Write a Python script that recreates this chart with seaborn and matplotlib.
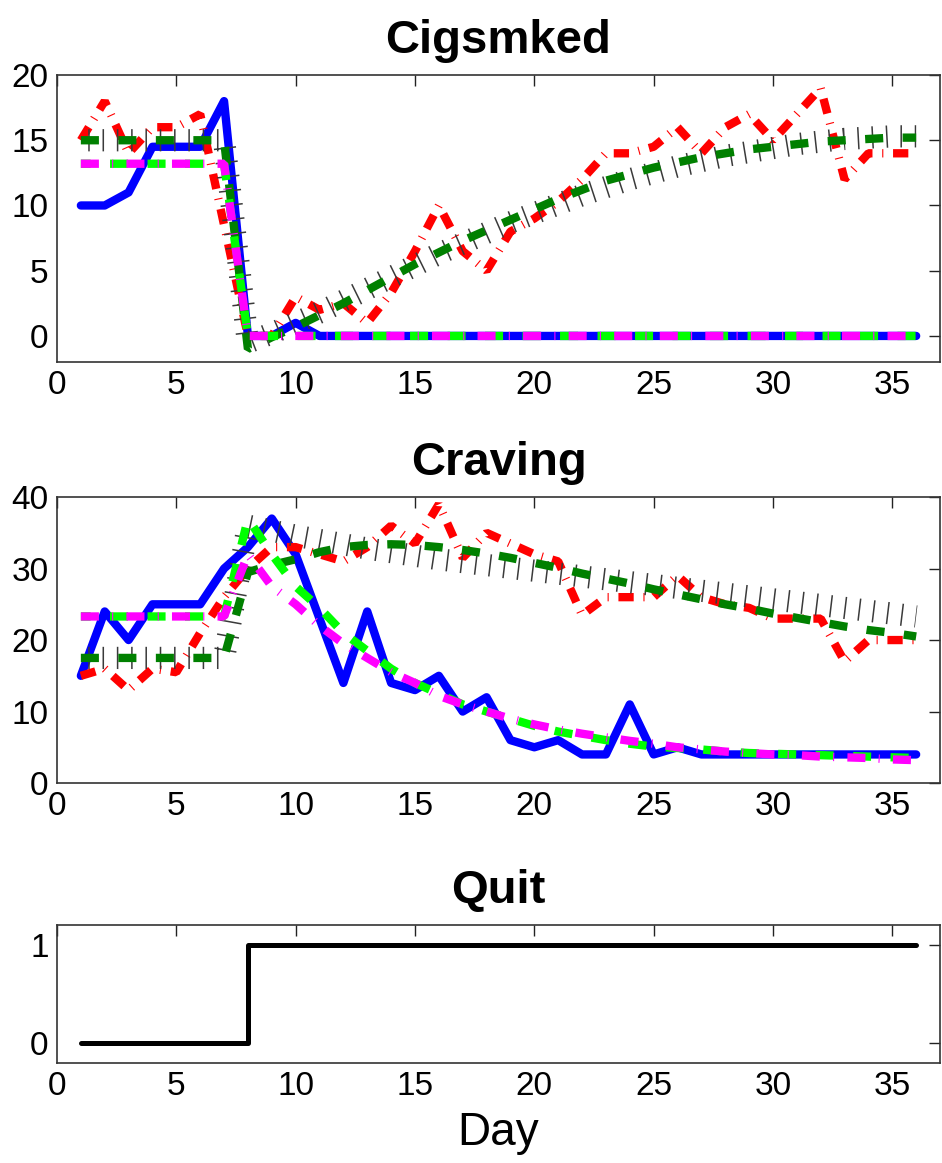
import matplotlib
matplotlib.use("Agg")
import matplotlib.pyplot as plt
import seaborn as sns

# ---------------- data ----------------
days = [1, 2, 3, 4, 5, 6, 7, 8, 9, 10, 11, 12, 13, 14, 15, 16, 17, 18,
        19, 20, 21, 22, 23, 24, 25, 26, 27, 28, 29, 30, 31, 32, 33, 34, 35, 36]

cig_blue = [10, 10, 11, 14.5, 14.5, 14.5, 18, 0, 0, 1, 0, 0, 0, 0, 0, 0, 0, 0,
            0, 0, 0, 0, 0, 0, 0, 0, 0, 0, 0, 0, 0, 0, 0, 0, 0, 0]
cig_red = [15, 18, 14, 16, 16, 17, 8.5, 0, 0, 3, 2, 2.5, 1, 3.3, 6.5, 10, 6.5, 5,
           8, 9, 10.3, 12, 14, 14, 14.5, 16, 14, 16, 17, 15, 17, 19, 12, 14, 14, 14]
cig_gray = [15, 15, 15, 15, 15, 15, 15, -0.5, 0.2, 1.0, 1.8, 2.7, 3.6, 4.5, 5.4, 6.3, 7.1, 7.9,
            8.7, 9.4, 10.1, 10.8, 11.4, 12.0, 12.5, 13.0, 13.4, 13.8, 14.1, 14.4, 14.7, 14.9, 15.1, 15.2, 15.3, 15.3]
cig_dgreen = [15, 15, 15, 15, 15, 15, 15, -1, -0.1, 0.7, 1.6, 2.5, 3.5, 4.5, 5.5, 6.4, 7.3, 8.1,
              8.9, 9.7, 10.5, 11.2, 11.9, 12.4, 12.9, 13.3, 13.7, 14.0, 14.3, 14.5, 14.7, 14.9, 15.0, 15.1, 15.2, 15.2]
cig_lime = [13.2, 13.2, 13.2, 13.2, 13.2, 13.2, 13.2, 0, 0, 0, 0, 0, 0, 0, 0, 0, 0, 0,
            0, 0, 0, 0, 0, 0, 0, 0, 0, 0, 0, 0, 0, 0, 0, 0, 0, 0]
cig_magenta = [13.2, 13.2, 13.2, 13.2, 13.2, 13.2, 13.2, 0, 0, 0, 0, 0, 0, 0, 0, 0, 0, 0,
               0, 0, 0, 0, 0, 0, 0, 0, 0, 0, 0, 0, 0, 0, 0, 0, 0, 0]

crav_blue = [15, 24, 20, 25, 25, 25, 30, 33, 37, 32, 23, 14, 24, 14, 13, 15, 10, 12,
             6, 5, 6, 4, 4, 11, 4, 5, 4, 4, 4, 4, 4, 4, 4, 4, 4, 4]
crav_red = [15, 16, 13, 16, 15.5, 21, 26, 30, 33, 33, 32, 31, 33, 36, 33.5, 39, 31.5, 35,
            33.5, 32, 31, 23.5, 26, 26, 26, 29, 26, 25, 24.5, 23, 23, 23, 17, 20, 20, 20]
crav_gray = [17.5, 17.5, 17.5, 17.5, 17.5, 17.5, 17.5, 36, 35.3, 34.6, 34, 33.4, 32.8, 32.3, 31.8, 31.3, 30.9, 30.5,
             30.1, 29.7, 29.3, 28.9, 28.5, 28.1, 27.7, 27.3, 26.9, 26.5, 26.1, 25.7, 25.3, 24.9, 24.5, 24.1, 23.7, 23.3]
crav_dgreen = [17.5, 17.5, 17.5, 17.5, 17.5, 17.5, 17.5, 29.5, 30.5, 31.3, 32.3, 33, 33.3, 33.4, 33.3, 33, 32.6, 32.1,
               31.5, 30.8, 30.1, 29.3, 28.6, 27.9, 27.1, 26.4, 25.7, 25, 24.4, 23.7, 23.1, 22.5, 21.9, 21.4, 21, 20.5]
crav_lime = [23.3, 23.3, 23.3, 23.3, 23.3, 23.3, 23.3, 37, 32, 27.5, 24.5, 21, 18.5, 16, 14, 12.5, 11, 10,
             9, 8, 7.2, 6.6, 6, 5.5, 5.1, 4.9, 4.7, 4.4, 4.2, 4.1, 4.0, 3.9, 3.8, 3.7, 3.6, 3.5]
crav_magenta = [23.3, 23.3, 23.3, 23.3, 23.3, 23.3, 23.3, 32, 27.5, 25, 22, 19.5, 17.5, 15.5, 14, 12.2, 11, 10,
                9, 8.2, 7.5, 6.9, 6.4, 5.9, 5.5, 5.0, 4.7, 4.4, 4.2, 4.0, 3.9, 3.7, 3.6, 3.5, 3.3, 3.2]

quit_vals = [0, 0, 0, 0, 0, 0, 0, 1, 1, 1, 1, 1, 1, 1, 1, 1, 1, 1,
             1, 1, 1, 1, 1, 1, 1, 1, 1, 1, 1, 1, 1, 1, 1, 1, 1, 1]

x_ticks = [0, 5, 10, 15, 20, 25, 30, 35]
cig_ticks = [0, 5, 10, 15, 20]
crav_ticks = [0, 10, 20, 30, 40]
quit_ticks = [0, 1]
titles = ["Cigsmked", "Craving", "Quit"]

# ---------------- style ----------------
sns.set_style("white")
plt.rcParams["font.family"] = ["Liberation Sans", "DejaVu Sans"]
plt.rcParams["lines.scale_dashes"] = False
plt.rcParams["text.color"] = "black"
plt.rcParams["axes.labelcolor"] = "black"
plt.rcParams["xtick.color"] = "black"
plt.rcParams["ytick.color"] = "black"

fig = plt.figure(figsize=(9.42, 11.63), dpi=100)
ax1 = fig.add_axes([0.0605, 0.6887, 0.9374, 0.2468])
ax2 = fig.add_axes([0.0605, 0.3267, 0.9374, 0.2459])
ax3 = fig.add_axes([0.0605, 0.0860, 0.9374, 0.1187])

styles = [
    # (color, linewidth, linestyle)
    ("#0000ff", 6.0, "-"),
    ("#ff0000", 6.0, (0, (11, 7, 0.8, 7))),
    ("#3a3a3a", 16.0, (5, (1.1, 9.2))),
    ("#008000", 6.0, (0, (13, 14))),
    ("#00ff00", 6.0, (6, (13, 14))),
    ("#ff00ff", 6.0, (0, (13, 9.5, 0.8, 9.5))),
]


def draw(ax, series):
    for vals, (c, lw, ls) in zip(series, styles):
        sns.lineplot(x=days, y=vals, ax=ax, color=c, linewidth=lw,
                     linestyle=ls, errorbar=None, legend=False,
                     solid_joinstyle="round", dash_joinstyle="bevel")


draw(ax1, [cig_blue, cig_red, cig_gray, cig_dgreen, cig_lime, cig_magenta])
draw(ax2, [crav_blue, crav_red, crav_gray, crav_dgreen, crav_lime, crav_magenta])
sns.lineplot(x=days, y=quit_vals, ax=ax3, color="black", linewidth=3.6,
             drawstyle="steps-post", errorbar=None, legend=False)


def style(ax, yticks, ylim, title):
    ax.set_xlim(0, 37)
    ax.set_ylim(*ylim)
    ax.set_xticks(x_ticks)
    ax.set_yticks(yticks)
    ax.tick_params(direction="in", top=True, right=True, length=8, width=1,
                   labelsize=24, pad=6, color="#222222", labelcolor="black")
    for s in ax.spines.values():
        s.set_linewidth(1.2)
        s.set_color("#333333")
        s.set_visible(True)
    ax.set_title(title, fontsize=34, fontweight="bold", pad=16, color="black")
    ax.set_xlabel("")
    ax.set_ylabel("")


style(ax1, cig_ticks, (-2, 20), titles[0])
style(ax2, crav_ticks, (0, 40), titles[1])
style(ax3, quit_ticks, (-0.2, 1.2), titles[2])
ax3.set_xlabel("Day", fontsize=33, labelpad=6, color="black")

fig.savefig("out.png", dpi=100)
